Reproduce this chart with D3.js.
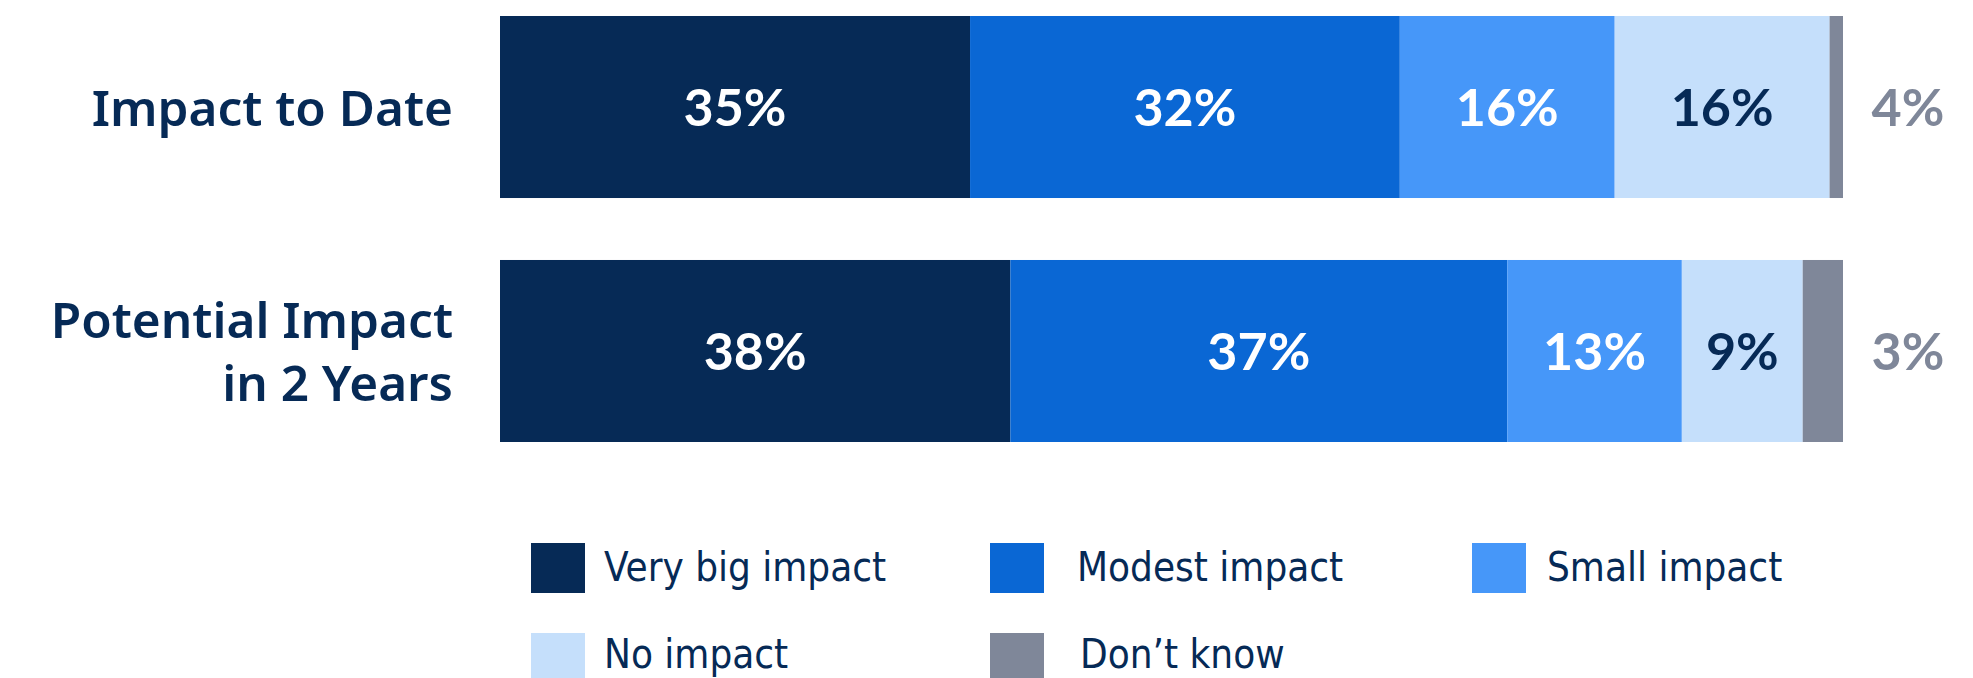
<!DOCTYPE html>
<html>
<head>
<meta charset="utf-8">
<script src="https://cdn.jsdelivr.net/npm/d3@7"></script>
<style>
  html, body { margin: 0; padding: 0; background: #ffffff; }
  svg { display: block; }
</style>
</head>
<body>
<svg id="chart" width="1973" height="678"></svg>
<script>
// ---- data ----
const categories = ["Impact to Date", "Potential Impact in 2 Years"];
const categoryLines = [["Impact to Date"], ["Potential Impact", "in 2 Years"]];
const seriesNames = ["Very big impact", "Modest impact", "Small impact", "No impact", "Don\u2019t know"];
const impactToDate = [35, 32, 16, 16, 4];
const potentialImpact = [38, 37, 13, 9, 3];
const seriesColors = ["#062a56", "#0a67d4", "#4697f9", "#c5dffb", "#7f8799"];
const labelColors = ["#ffffff", "#ffffff", "#ffffff", "#062a56", "#7f8799"];

const rows = [impactToDate, potentialImpact].map((vals, i) => {
  const o = { category: categories[i] };
  seriesNames.forEach((s, j) => o[s] = vals[j]);
  return o;
});

const svg = d3.select("#chart");
const navy = "#062a56";

const x = d3.scaleLinear().domain([0, 100]).range([500, 1843]).clamp(true);
const y = d3.scaleBand().domain(categories).range([16, 442]).paddingInner(0.254).paddingOuter(0);
const color = d3.scaleOrdinal().domain(seriesNames).range(seriesColors);
const labelColor = d3.scaleOrdinal().domain(seriesNames).range(labelColors);

const stacked = d3.stack().keys(seriesNames)(rows);

const layers = svg.append("g").selectAll("g")
  .data(stacked).join("g")
  .attr("fill", d => color(d.key));

layers.selectAll("rect")
  .data(d => d.map(p => ({ key: d.key, p })))
  .join("rect")
  .attr("x", d => x(d.p[0]))
  .attr("y", d => y(d.p.data.category))
  .attr("width", d => Math.max(0, x(d.p[1]) - x(d.p[0])))
  .attr("height", y.bandwidth());

// value labels
const lastKey = seriesNames[seriesNames.length - 1];
svg.append("g").selectAll("g")
  .data(stacked).join("g")
  .selectAll("text")
  .data(d => d.map(p => ({ key: d.key, p })))
  .join("text")
  .attr("x", d => d.key === lastKey ? x(100) + 65 : (x(d.p[0]) + x(d.p[1])) / 2)
  .attr("y", d => y(d.p.data.category) + y.bandwidth() / 2 + 19)
  .attr("text-anchor", "middle")
  .attr("font-family", "Lato, 'Noto Sans', sans-serif")
  .attr("font-weight", 700)
  .attr("font-size", 52)
  .attr("fill", d => labelColor(d.key))
  .text(d => (d.p.data[d.key]) + "%");

// category labels
const catG = svg.append("g");
categories.forEach((c, i) => {
  const lines = categoryLines[i];
  const lh = 63;
  const cy = y(c) + y.bandwidth() / 2;
  const first = cy + 19 - (lines.length - 1) * lh / 2;
  const t = catG.append("text")
    .attr("text-anchor", "end")
    .attr("font-family", "'Noto Sans', sans-serif")
    .attr("font-weight", 600)
    .attr("font-size", 49.5)
    .attr("fill", navy);
  lines.forEach((ln, k) => {
    t.append("tspan").attr("x", 453).attr("y", first + k * lh).text(ln);
  });
});

// legend
const legendPos = [
  { sx: 531, tx: 604, y: 543 },
  { sx: 990, tx: 1077, y: 543 },
  { sx: 1472, tx: 1547, y: 543 },
  { sx: 531, tx: 604, y: 633 },
  { sx: 990, tx: 1080, y: 633 }
];
const leg = svg.append("g").selectAll("g")
  .data(seriesNames).join("g");
leg.append("rect")
  .attr("x", (d, i) => legendPos[i].sx)
  .attr("y", (d, i) => legendPos[i].y)
  .attr("width", 54)
  .attr("height", 50)
  .attr("fill", d => color(d));
leg.append("text")
  .attr("x", (d, i) => legendPos[i].tx)
  .attr("y", (d, i) => legendPos[i].y + (i < 3 ? 38 : 35))
  .attr("font-family", "'Liberation Sans Narrow', 'DejaVu Sans Condensed', sans-serif")
  .attr("font-size", 40)
  .attr("fill", navy)
  .text(d => d);
</script>
</body>
</html>
